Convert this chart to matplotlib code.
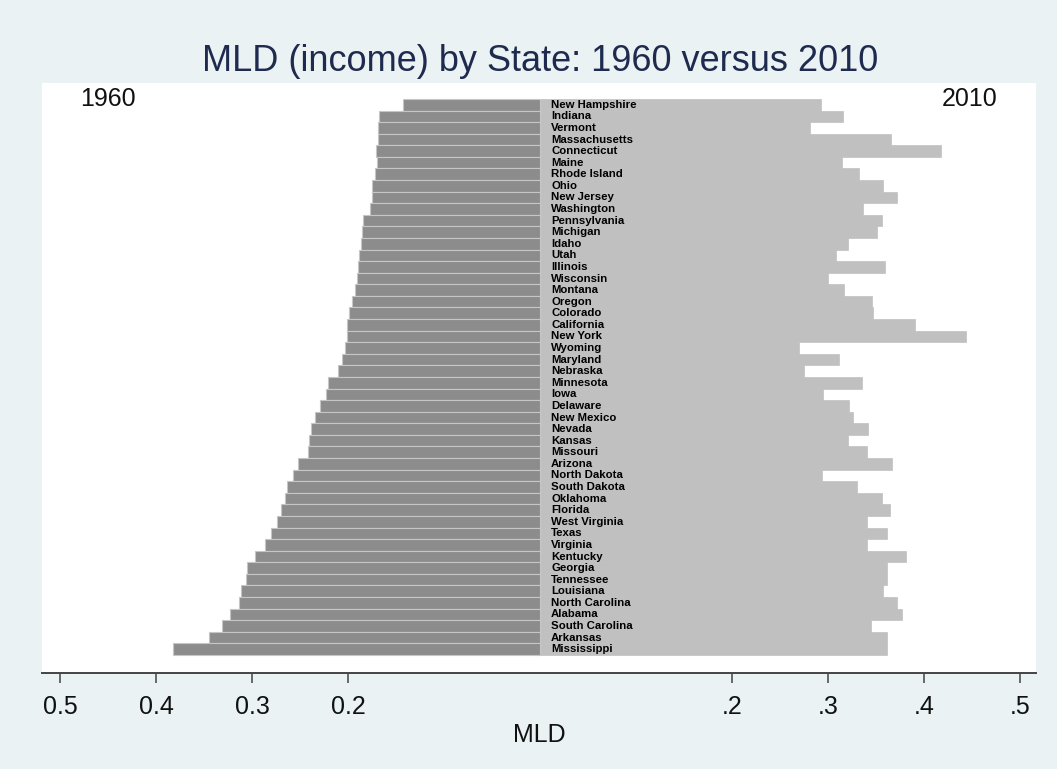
import matplotlib
matplotlib.use("Agg")
import matplotlib.pyplot as plt

# Mean log deviation of income by state, sorted by 1960 value
states = [
    "New Hampshire", "Indiana", "Vermont", "Massachusetts", "Connecticut",
    "Maine", "Rhode Island", "Ohio", "New Jersey", "Washington",
    "Pennsylvania", "Michigan", "Idaho", "Utah", "Illinois", "Wisconsin",
    "Montana", "Oregon", "Colorado", "California", "New York", "Wyoming",
    "Maryland", "Nebraska", "Minnesota", "Iowa", "Delaware", "New Mexico",
    "Nevada", "Kansas", "Missouri", "Arizona", "North Dakota", "South Dakota",
    "Oklahoma", "Florida", "West Virginia", "Texas", "Virginia", "Kentucky",
    "Georgia", "Tennessee", "Louisiana", "North Carolina", "Alabama",
    "South Carolina", "Arkansas", "Mississippi",
]

mld_1960 = [
    0.143, 0.168, 0.169, 0.169, 0.1705, 0.170, 0.1715, 0.175, 0.175, 0.1774,
    0.184, 0.185, 0.1865, 0.189, 0.190, 0.191, 0.1924, 0.196, 0.1986, 0.2007,
    0.2007, 0.2035, 0.206, 0.2108, 0.2205, 0.2233, 0.229, 0.234, 0.239, 0.241,
    0.242, 0.252, 0.257, 0.263, 0.2656, 0.2694, 0.274, 0.2806, 0.2868, 0.2965,
    0.305, 0.3066, 0.3115, 0.3139, 0.3229, 0.3316, 0.3451, 0.3826,
]

mld_2010 = [
    0.293, 0.316, 0.281, 0.366, 0.418, 0.315, 0.332, 0.357, 0.372, 0.337,
    0.356, 0.351, 0.321, 0.308, 0.359, 0.300, 0.317, 0.346, 0.347, 0.391,
    0.444, 0.270, 0.311, 0.275, 0.335, 0.295, 0.322, 0.326, 0.342, 0.321,
    0.341, 0.367, 0.294, 0.330, 0.356, 0.365, 0.341, 0.362, 0.341, 0.381,
    0.362, 0.362, 0.357, 0.372, 0.377, 0.345, 0.361, 0.361,
]

tick_values = [0.5, 0.4, 0.3, 0.2, 0.2, 0.3, 0.4, 0.5]
tick_labels = ["0.5", "0.4", "0.3", "0.2", ".2", ".3", ".4", ".5"]
tick_sides = [-1, -1, -1, -1, 1, 1, 1, 1]

plt.rcParams["font.family"] = ["Liberation Sans", "DejaVu Sans"]

BG = "#eaf2f3"
DARK = "#8c8c8c"
LIGHT = "#c0c0c0"

fig = plt.figure(figsize=(10.57, 7.69), dpi=100, facecolor=BG)
ax = fig.add_axes([0.0395, 0.1252, 0.9406, 0.7673])
ax.set_facecolor("white")

ypos = list(range(len(states)))

# 2010 to the right, 1960 mirrored to the left
ax.barh(ypos, mld_2010, height=1.0, color=LIGHT, edgecolor=LIGHT,
        linewidth=0.5, zorder=2)
ax.barh(ypos, [-v for v in mld_1960], height=1.0, color=DARK,
        edgecolor="#c6c6c6", linewidth=0.8, zorder=3)

for y, name in zip(ypos, states):
    ax.text(0.0115, y, name, ha="left", va="center", fontsize=8.2,
            fontweight="bold", color="black", zorder=4)

ax.set_xlim(-0.519, 0.5167)
ax.set_ylim(49.03, -1.907)

ax.set_xticks([s * v for s, v in zip(tick_sides, tick_values)])
ax.set_xticklabels(tick_labels)
ax.tick_params(axis="x", length=7, width=1.1, color="#444444", pad=9,
               labelsize=18, labelcolor="#111111")
ax.set_yticks([])

for side in ("top", "left", "right"):
    ax.spines[side].set_visible(False)
ax.spines["bottom"].set_color("#444444")
ax.spines["bottom"].set_linewidth(1.4)

ax.set_xlabel("MLD", fontsize=18, color="#111111", labelpad=3)

ax.text(0.0385, 0.973, "1960", transform=ax.transAxes, ha="left",
        va="center", fontsize=18, color="#111111")
ax.text(0.9617, 0.972, "2010", transform=ax.transAxes, ha="right",
        va="center", fontsize=18, color="#111111")

fig.text(0.511, 0.92, "MLD (income) by State: 1960 versus 2010",
         ha="center", va="center", fontsize=26, color="#1e2b4f")

fig.savefig("out.png", dpi=100, facecolor=BG)
